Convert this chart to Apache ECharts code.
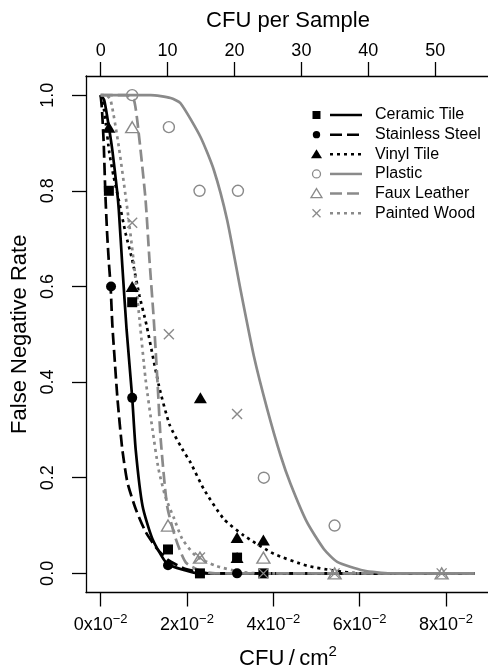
<!DOCTYPE html>
<html>
<head>
<meta charset="utf-8">
<title>False negative rate by surface</title>
<script src="https://cdn.jsdelivr.net/npm/echarts@6/dist/echarts.min.js"></script>
<style>
  html, body { margin: 0; padding: 0; background: #fff; }
  #chart { width: 488px; height: 671px; }
</style>
</head>
<body>
<div id="chart"></div>
<script>
// surfaces, in legend order
const surfaces = ['Ceramic Tile', 'Stainless Steel', 'Vinyl Tile', 'Plastic', 'Faux Leather', 'Painted Wood'];

// observed false negative rates, [CFU/cm2, rate]
const ceramicPts = [[0.0019, 0.80], [0.0073, 0.567], [0.0156, 0.05], [0.0230, 0], [0.0316, 0.033], [0.0377, 0]];
const steelPts = [[0.0024, 0.60], [0.0073, 0.367], [0.0156, 0.017], [0.0316, 0]];
const vinylPts = [[0.0019, 0.933], [0.0073, 0.60], [0.0231, 0.367], [0.0316, 0.075], [0.0377, 0.070], [0.0316, 0.033]];
const plasticPts = [[0.0073, 1.0], [0.0158, 0.933], [0.0229, 0.80], [0.0318, 0.80], [0.0378, 0.20], [0.0542, 0.10]];
const fauxPts = [[0.0073, 0.933], [0.0156, 0.10], [0.0230, 0.033], [0.0377, 0.033], [0.0542, 0], [0.0790, 0]];
const woodPts = [[0.0073, 0.733], [0.0158, 0.50], [0.0316, 0.333], [0.0230, 0.033], [0.0377, 0], [0.0542, 0], [0.0790, 0]];

// fitted curves
const ceramicFit = [[0, 1], [0.0008, 0.99], [0.0016, 0.95], [0.0027, 0.885], [0.0038, 0.80], [0.0042, 0.76],
  [0.0050, 0.645], [0.0060, 0.51], [0.0073, 0.368], [0.0081, 0.26], [0.0097, 0.141], [0.0120, 0.072],
  [0.0154, 0.020], [0.0197, 0.006], [0.0227, 0], [0.0866, 0]];
const steelFit = [[0, 1], [0.0003, 0.97], [0.0007, 0.90], [0.0011, 0.79], [0.0015, 0.71], [0.0019, 0.65],
  [0.0023, 0.60], [0.0027, 0.52], [0.0033, 0.44], [0.0039, 0.364], [0.0050, 0.26], [0.0062, 0.19],
  [0.0081, 0.135], [0.0104, 0.087], [0.0131, 0.051], [0.0158, 0.027], [0.0197, 0.009], [0.0255, 0], [0.0866, 0]];
const vinylFit = [[0, 1], [0.0006, 0.98], [0.0012, 0.94], [0.0020, 0.88], [0.0030, 0.83], [0.0042, 0.78],
  [0.0058, 0.71], [0.0073, 0.656], [0.0090, 0.58], [0.0106, 0.52], [0.0135, 0.392], [0.0160, 0.31],
  [0.0189, 0.26], [0.0208, 0.232], [0.0239, 0.176], [0.0285, 0.114], [0.0332, 0.079], [0.0401, 0.041],
  [0.0478, 0.016], [0.0540, 0.006], [0.0602, 0], [0.0866, 0]];
const plasticFit = [[0, 1], [0.0116, 1.0], [0.0162, 0.994], [0.0185, 0.983], [0.0231, 0.913], [0.0262, 0.844],
  [0.0293, 0.739], [0.0324, 0.593], [0.0355, 0.454], [0.0386, 0.343], [0.0417, 0.246], [0.0440, 0.187],
  [0.0478, 0.107], [0.0517, 0.051], [0.0548, 0.024], [0.0609, 0.006], [0.0671, 0], [0.0866, 0]];
const fauxFit = [[0, 1], [0.0058, 1.0], [0.0077, 0.99], [0.0089, 0.913], [0.0104, 0.781], [0.0113, 0.656],
  [0.0123, 0.531], [0.0132, 0.395], [0.0139, 0.281], [0.0154, 0.141], [0.0174, 0.072], [0.0197, 0.023],
  [0.0231, 0.005], [0.0266, 0], [0.0866, 0]];
const woodFit = [[0, 1], [0.0012, 1.0], [0.0023, 0.99], [0.0042, 0.892], [0.0062, 0.760], [0.0076, 0.656],
  [0.0090, 0.531], [0.0104, 0.406], [0.0120, 0.301], [0.0134, 0.218], [0.0150, 0.160], [0.0170, 0.115],
  [0.0189, 0.072], [0.0220, 0.037], [0.0266, 0.016], [0.0324, 0.003], [0.0370, 0], [0.0866, 0]];

// tick labels
const xTicks = [0, 0.02, 0.04, 0.06, 0.08];
const topTicks = [0, 10, 20, 30, 40, 50];
const yTicks = [0, 0.2, 0.4, 0.6, 0.8, 1.0];

const cm2PerSample = 645.16; // 100 square inches
const xMin = -0.0034, xMax = 0.0902;

const points = [ceramicPts, steelPts, vinylPts, plasticPts, fauxPts, woodPts];
const fits = [ceramicFit, steelFit, vinylFit, plasticFit, fauxFit, woodFit];

const FONT = 'Liberation Sans, Arial, Helvetica, sans-serif';
const GRAY = '#8a8a8a';
const BLACK = '#000';
const DASHED = [12, 5];
const DOTTED = [3, 4];
const CROSS = 'path://M0,0L10,10M10,0L0,10';

const looks = [
  { color: BLACK, symbol: 'rect', size: 10, open: false, line: 'solid' },
  { color: BLACK, symbol: 'circle', size: 10, open: false, line: DASHED },
  { color: BLACK, symbol: 'triangle', size: [13, 11], open: false, line: DOTTED },
  { color: GRAY, symbol: 'circle', size: 11, open: true, line: 'solid' },
  { color: GRAY, symbol: 'triangle', size: [13, 11], open: true, line: DASHED },
  { color: GRAY, symbol: CROSS, size: 10, open: true, line: DOTTED }
];

const series = [];
surfaces.forEach(function (name, i) {
  const lk = looks[i];
  series.push({
    name: name,
    type: 'line',
    data: fits[i],
    showSymbol: false,
    smooth: 0.2,
    silent: true,
    z: 2,
    lineStyle: { color: lk.color, width: 2.7, type: lk.line }
  });
  series.push({
    name: name,
    type: 'scatter',
    data: points[i],
    symbol: lk.symbol,
    symbolSize: lk.size,
    z: 3,
    itemStyle: lk.open
      ? { color: 'transparent', borderColor: lk.color, borderWidth: 1.4, opacity: 1 }
      : { color: lk.color, opacity: 1 }
  });
});

// R-style legend: marker, line sample, label
function legendMarker(lk, cx, cy) {
  const st = lk.open ? { fill: null, stroke: lk.color, lineWidth: 1.3 } : { fill: lk.color };
  if (lk.symbol === 'rect') {
    return { type: 'rect', shape: { x: cx - 4, y: cy - 4, width: 8, height: 8 }, style: st };
  }
  if (lk.symbol === 'circle') {
    return { type: 'circle', shape: { cx: cx, cy: cy, r: lk.open ? 4 : 3.7 }, style: st };
  }
  if (lk.symbol === 'triangle') {
    return { type: 'polygon', shape: { points: [[cx, cy - 5], [cx + 5.5, cy + 4], [cx - 5.5, cy + 4]] }, style: st };
  }
  return {
    type: 'group',
    children: [
      { type: 'line', shape: { x1: cx - 4, y1: cy - 4, x2: cx + 4, y2: cy + 4 }, style: st },
      { type: 'line', shape: { x1: cx + 4, y1: cy - 4, x2: cx - 4, y2: cy + 4 }, style: st }
    ]
  };
}

const legendItems = [];
surfaces.forEach(function (name, i) {
  const lk = looks[i];
  const y = 115 + i * 19.65;
  legendItems.push(legendMarker(lk, 316.5, y));
  legendItems.push({
    type: 'line',
    shape: { x1: 330, y1: y, x2: 362, y2: y },
    style: { stroke: lk.color, lineWidth: 2.5, lineDash: lk.line === 'solid' ? null : lk.line }
  });
  legendItems.push({
    type: 'text',
    x: 375, y: y,
    style: { text: name, font: '16px ' + FONT, fill: BLACK, verticalAlign: 'middle' }
  });
});

const axisLineStyle = { color: BLACK, width: 1.3 };
const supRich = {
  a: { fontSize: 18, fontFamily: FONT, color: BLACK, lineHeight: 26 },
  s: { fontSize: 13, fontFamily: FONT, color: BLACK, lineHeight: 13, verticalAlign: 'top' }
};

const chart = echarts.init(document.getElementById('chart'), null, { renderer: 'canvas' });

const option = {
  animation: false,
  backgroundColor: '#fff',
  grid: { left: 86, top: 76, right: -2, bottom: 78.5, outerBoundsMode: 'none' },
  xAxis: [
    {
      type: 'value',
      position: 'bottom',
      min: xMin,
      max: xMax,
      axisLine: { show: true, onZero: false, lineStyle: axisLineStyle },
      axisTick: { show: true, length: 14, customValues: xTicks, lineStyle: axisLineStyle },
      axisLabel: {
        customValues: xTicks,
        margin: 20,
        formatter: function (v) { return '{a|' + Math.round(v * 100) + 'x10}{s|\u22122}'; },
        rich: supRich
      },
      splitLine: { show: false },
      name: '{a|CFU\u2009/\u2009cm}{s|2}',
      nameLocation: 'middle',
      nameGap: 52,
      nameTextStyle: {
        rich: {
          a: { fontSize: 22, fontFamily: FONT, color: BLACK, lineHeight: 28 },
          s: { fontSize: 15, fontFamily: FONT, color: BLACK, lineHeight: 15, verticalAlign: 'top' }
        }
      }
    },
    {
      type: 'value',
      position: 'top',
      min: xMin * cm2PerSample,
      max: xMax * cm2PerSample,
      axisLine: { show: true, onZero: false, lineStyle: axisLineStyle },
      axisTick: { show: true, length: 14, customValues: topTicks, lineStyle: axisLineStyle },
      axisLabel: { customValues: topTicks, margin: 16, fontSize: 18, fontFamily: FONT, color: BLACK },
      splitLine: { show: false },
      name: 'CFU per Sample',
      nameLocation: 'middle',
      nameGap: 44,
      nameTextStyle: { fontSize: 22, fontFamily: FONT, color: BLACK }
    }
  ],
  yAxis: {
    type: 'value',
    min: -0.04,
    max: 1.04,
    axisLine: { show: true, onZero: false, lineStyle: axisLineStyle },
    axisTick: { show: true, length: 14, customValues: yTicks, lineStyle: axisLineStyle },
    axisLabel: {
      customValues: yTicks,
      rotate: 90,
      margin: 29,
      fontSize: 18,
      fontFamily: FONT,
      color: BLACK,
      formatter: function (v) { return v.toFixed(1); }
    },
    splitLine: { show: false },
    name: 'False Negative Rate',
    nameLocation: 'middle',
    nameGap: 52,
    nameTextStyle: { fontSize: 22, fontFamily: FONT, color: BLACK }
  },
  series: series,
  graphic: [{ type: 'group', children: legendItems }]
};

chart.setOption(option);
</script>
</body>
</html>
